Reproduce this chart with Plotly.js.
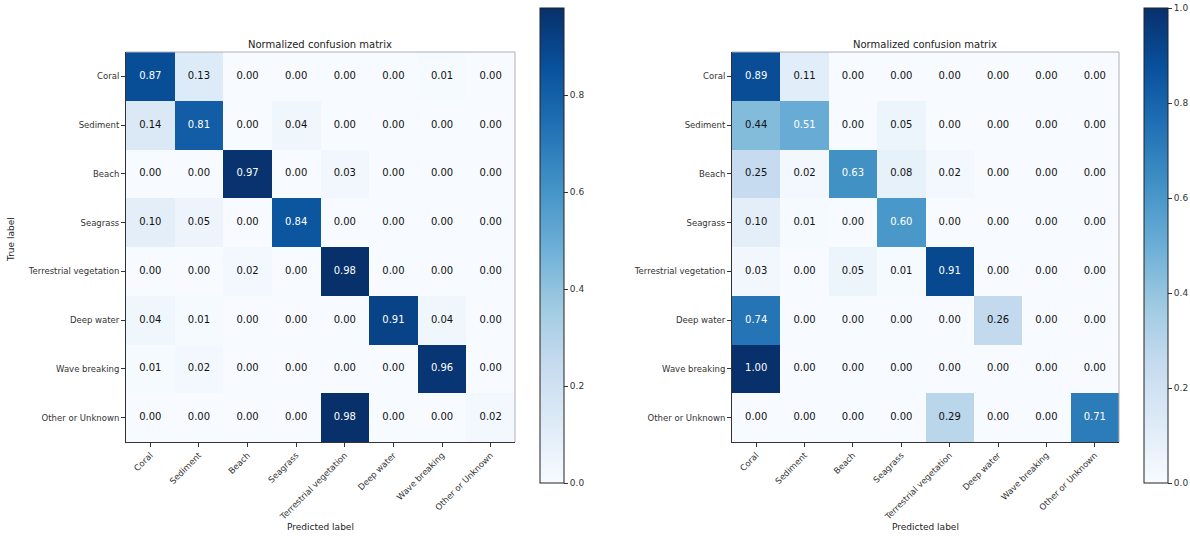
<!DOCTYPE html>
<html>
<head>
<meta charset="utf-8">
<script src="https://cdn.plot.ly/plotly-3.0.1.min.js"></script>
<style>
  html, body { margin: 0; padding: 0; background: #ffffff; }
  #chart { width: 1190px; height: 538px; }
</style>
</head>
<body>
<div id="chart"></div>
<script>
// Class names shared by both matrices (rows = true label, columns = predicted label)
const classes = ['Coral', 'Sediment', 'Beach', 'Seagrass', 'Terrestrial vegetation',
                 'Deep water', 'Wave breaking', 'Other or Unknown'];

// Row-normalized confusion matrix, first model
const cmLeft = [
  [0.87, 0.13, 0.00, 0.00, 0.00, 0.00, 0.01, 0.00],
  [0.14, 0.81, 0.00, 0.04, 0.00, 0.00, 0.00, 0.00],
  [0.00, 0.00, 0.97, 0.00, 0.03, 0.00, 0.00, 0.00],
  [0.10, 0.05, 0.00, 0.84, 0.00, 0.00, 0.00, 0.00],
  [0.00, 0.00, 0.02, 0.00, 0.98, 0.00, 0.00, 0.00],
  [0.04, 0.01, 0.00, 0.00, 0.00, 0.91, 0.04, 0.00],
  [0.01, 0.02, 0.00, 0.00, 0.00, 0.00, 0.96, 0.00],
  [0.00, 0.00, 0.00, 0.00, 0.98, 0.00, 0.00, 0.02]
];

// Row-normalized confusion matrix, second model
const cmRight = [
  [0.89, 0.11, 0.00, 0.00, 0.00, 0.00, 0.00, 0.00],
  [0.44, 0.51, 0.00, 0.05, 0.00, 0.00, 0.00, 0.00],
  [0.25, 0.02, 0.63, 0.08, 0.02, 0.00, 0.00, 0.00],
  [0.10, 0.01, 0.00, 0.60, 0.00, 0.00, 0.00, 0.00],
  [0.03, 0.00, 0.05, 0.01, 0.91, 0.00, 0.00, 0.00],
  [0.74, 0.00, 0.00, 0.00, 0.00, 0.26, 0.00, 0.00],
  [1.00, 0.00, 0.00, 0.00, 0.00, 0.00, 0.00, 0.00],
  [0.00, 0.00, 0.00, 0.00, 0.29, 0.00, 0.00, 0.71]
];

const titleText = 'Normalized confusion matrix';
const xLabel = 'Predicted label';
const yLabel = 'True label';

// matplotlib "Blues"
const blues = [
  [0.000, '#f7fbff'], [0.125, '#deebf7'], [0.250, '#c6dbef'],
  [0.375, '#9ecae1'], [0.500, '#6baed6'], [0.625, '#4292c6'],
  [0.750, '#2171b5'], [0.875, '#08519c'], [1.000, '#08306b']
];

const W = 1190, H = 538;
const px = v => v / W;
const py = v => 1 - v / H;
const FONT = 'DejaVu Sans, sans-serif';

function maxOf(m) { let r = -Infinity; m.forEach(row => row.forEach(v => { if (v > r) r = v; })); return r; }
function minOf(m) { let r = Infinity; m.forEach(row => row.forEach(v => { if (v < r) r = v; })); return r; }

function heat(m, xa, ya, cbX) {
  return {
    type: 'heatmap',
    z: m, x: classes, y: classes,
    xaxis: xa, yaxis: ya,
    zmin: minOf(m), zmax: maxOf(m),
    colorscale: blues,
    xgap: 0, ygap: 0,
    hoverinfo: 'skip',
    colorbar: {
      x: px(cbX), xanchor: 'left', xref: 'paper',
      y: py(483), yanchor: 'bottom', yref: 'paper',
      len: 475, lenmode: 'pixels',
      thickness: 24, thicknessmode: 'pixels',
      xpad: 0, ypad: 0,
      outlinewidth: 1, outlinecolor: '#222',
      ticks: 'outside', ticklen: 4, tickcolor: '#333',
      tick0: 0, dtick: 0.2, tickformat: '.1f',
      tickfont: { family: FONT, size: 9, color: '#333' }
    }
  };
}

// Values printed in the cells: one trace for dark cells (white text),
// one for light cells (black text); the split is at half of the max.
function cellText(m, xa, ya, dark) {
  const thresh = maxOf(m) / 2;
  const xs = [], ys = [], txt = [];
  m.forEach((row, i) => row.forEach((v, j) => {
    if ((v > thresh) === dark) {
      xs.push(classes[j]); ys.push(classes[i]);
      txt.push(v.toFixed(2));
    }
  }));
  return {
    type: 'scatter', mode: 'text',
    x: xs, y: ys, text: txt,
    xaxis: xa, yaxis: ya,
    textposition: 'middle center',
    textfont: { family: FONT, size: 10, color: dark ? '#ffffff' : '#111111' },
    hoverinfo: 'skip', showlegend: false
  };
}

function axisX(domain, anchor) {
  return {
    domain: domain, anchor: anchor,
    type: 'category', showgrid: false, zeroline: false,
    showline: true, linecolor: '#333', linewidth: 1,
    ticks: 'outside', ticklen: 4, tickcolor: '#333',
    tickangle: -45,
    tickfont: { family: FONT, size: 8.5, color: '#333' },
    categoryorder: 'array', categoryarray: classes,
    range: [-0.5, classes.length - 0.5],
    fixedrange: true
  };
}
function axisY(domain, anchor) {
  return {
    domain: domain, anchor: anchor,
    type: 'category',
    categoryorder: 'array', categoryarray: classes,
    range: [classes.length - 0.5, -0.5],
    showgrid: false, zeroline: false,
    showline: true, linecolor: '#333', linewidth: 1,
    ticks: 'outside', ticklen: 4, tickcolor: '#333',
    tickfont: { family: FONT, size: 8.5, color: '#333' },
    fixedrange: true
  };
}

function frame(xd, yd) {
  return [
    { type: 'line', xref: xd, yref: yd, x0: 0, x1: 1, y0: 1, y1: 1,
      line: { color: '#b0b0b0', width: 1 }, layer: 'above' },
    { type: 'line', xref: xd, yref: yd, x0: 1, x1: 1, y0: 0, y1: 1,
      line: { color: '#b0b0b0', width: 1 }, layer: 'above' }
  ];
}

function note(x, y, text, size, extra) {
  return Object.assign({
    xref: 'paper', yref: 'paper', x: px(x), y: py(y), text: text,
    xanchor: 'center', yanchor: 'middle', showarrow: false,
    font: { family: FONT, size: size, color: '#222' }
  }, extra || {});
}

const layout = {
  width: W, height: H,
  margin: { l: 0, r: 0, t: 0, b: 0 },
  paper_bgcolor: '#ffffff', plot_bgcolor: '#ffffff',
  showlegend: false,
  xaxis: axisX([px(126), px(515)], 'y'),
  yaxis: axisY([py(442), py(52)], 'x'),
  xaxis2: axisX([px(732), px(1119)], 'y2'),
  yaxis2: axisY([py(442), py(52)], 'x2'),
  annotations: [
    note(320, 44, titleText, 10),
    note(925, 44, titleText, 10),
    note(320, 527, xLabel, 9),
    note(925, 527, xLabel, 9),
    note(11, 240, yLabel, 9, { textangle: -90 })
  ],
  shapes: frame('x domain', 'y domain').concat(frame('x2 domain', 'y2 domain'))
};

Plotly.newPlot('chart', [
  heat(cmLeft, 'x', 'y', 540),
  heat(cmRight, 'x2', 'y2', 1144),
  cellText(cmLeft, 'x', 'y', false),
  cellText(cmLeft, 'x', 'y', true),
  cellText(cmRight, 'x2', 'y2', false),
  cellText(cmRight, 'x2', 'y2', true)
], layout, { displayModeBar: false, staticPlot: true });
</script>
</body>
</html>
